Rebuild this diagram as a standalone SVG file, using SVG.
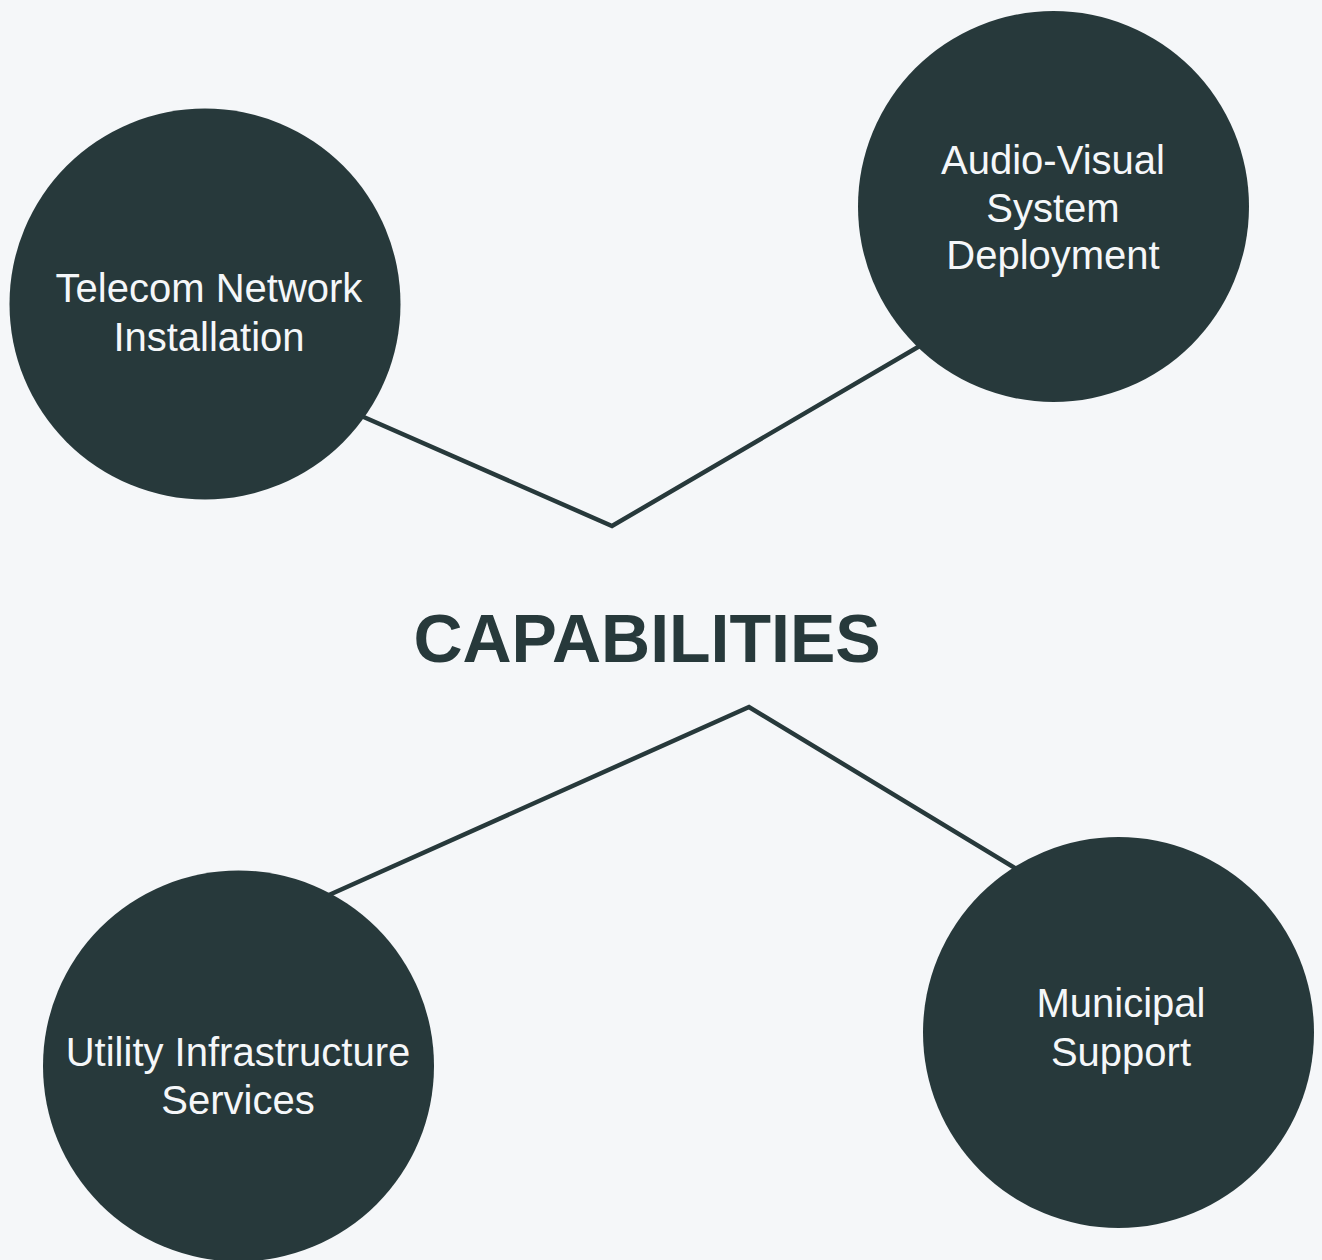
<svg xmlns="http://www.w3.org/2000/svg" width="1322" height="1260" viewBox="0 0 1322 1260">
  <style>
    .node { fill: #27393b; }
    .label { font-family: "Liberation Sans", Arial, sans-serif; font-size: 40px; fill: #f5f7f9; text-anchor: middle; }
    .title { font-family: "Liberation Sans", Arial, sans-serif; font-size: 68px; font-weight: bold; fill: #27393b; text-anchor: middle; }
    .edge { fill: none; stroke: #27393b; stroke-width: 4.5; stroke-linejoin: miter; }
  </style>
  <rect width="1322" height="1260" fill="#f5f7f9"/>
  <g id="connectors">
    <polyline class="edge" points="350,411 612,526 930,340"/>
    <polyline class="edge" points="320,899 749,707 1025,874"/>
  </g>
  <g id="node-telecom">
    <circle class="node" cx="205" cy="304" r="195.5"/>
    <text class="label" x="209" y="302">Telecom Network</text>
    <text class="label" x="209" y="351">Installation</text>
  </g>
  <g id="node-audiovisual">
    <circle class="node" cx="1053.5" cy="206.5" r="195.5"/>
    <text class="label" x="1053" y="174">Audio-Visual</text>
    <text class="label" x="1053" y="222">System</text>
    <text class="label" x="1053" y="269">Deployment</text>
  </g>
  <g id="title">
    <text class="title" x="647" y="662">CAPABILITIES</text>
  </g>
  <g id="node-utility">
    <circle class="node" cx="238.5" cy="1066" r="195.5"/>
    <text class="label" x="238" y="1066">Utility Infrastructure</text>
    <text class="label" x="238" y="1114">Services</text>
  </g>
  <g id="node-municipal">
    <circle class="node" cx="1118.5" cy="1032.5" r="195.5"/>
    <text class="label" x="1121" y="1017">Municipal</text>
    <text class="label" x="1121" y="1066">Support</text>
  </g>
</svg>
